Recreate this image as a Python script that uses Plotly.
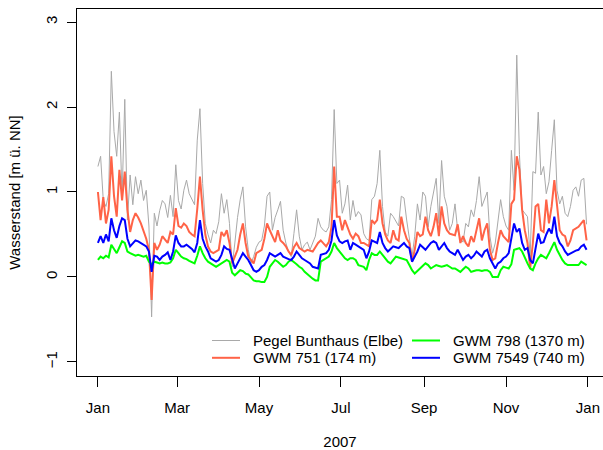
import pandas as pd
import plotly.graph_objects as go

# Daily water levels 2007, sampled every second day (m above NN)
dates = pd.date_range("2007-01-01", periods=183, freq="2D")

pegel_bunthaus = [
    1.30, 1.42, 0.90, 0.83, 0.98, 2.42, 1.71, 1.42, 1.94, 0.95,
    2.09, 0.67, 1.20, 0.85, 1.18, 0.98, 1.14, 0.90, 1.02, 0.60,
    -0.47, 0.75, 0.60, 0.78, 0.90, 0.86, 0.70, 0.96, 0.71, 1.32,
    0.90, 0.80, 1.02, 1.14, 0.98, 0.92, 0.85, 1.61, 1.98, 1.10,
    0.63, 0.50, 0.40, 0.55, 0.51, 0.65, 0.98, 0.75, 0.91, 0.63,
    0.12, 0.40, 0.70, 0.91, 1.06, 0.59, 0.32, 0.16, 0.24, 0.35,
    0.41, 0.43, 0.60, 0.95, 1.00, 0.55, 0.70, 0.79, 0.89, 0.55,
    0.40, 0.30, 0.24, 0.51, 0.79, 0.48, 0.32, 0.38, 0.41, 0.32,
    0.40, 0.48, 0.69, 0.59, 0.55, 0.53, 0.59, 0.91, 1.97, 1.10,
    1.14, 0.75, 0.86, 1.08, 0.67, 0.90, 0.71, 0.77, 0.73, 0.51,
    0.45, 0.43, 0.91, 0.95, 1.10, 1.49, 0.83, 0.53, 0.48, 0.75,
    0.71, 0.65, 0.60, 0.95, 0.93, 0.67, 0.48, 0.24, 0.48, 0.86,
    0.67, 1.00, 0.95, 0.59, 0.83, 1.02, 1.16, 0.63, 1.37, 0.95,
    0.83, 0.55, 0.63, 0.86, 0.55, 0.45, 0.41, 0.63, 0.59, 0.79,
    0.71, 0.90, 1.18, 0.83, 0.91, 1.00, 0.48, 0.28, 0.40, 0.65,
    0.91, 0.71, 0.60, 0.55, 1.49, 1.02, 2.61, 1.44, 0.79, 0.75,
    0.71, 0.24, 1.24, 1.22, 1.94, 1.20, 1.30, 0.98, 1.12, 1.49,
    1.85, 1.02, 0.86, 0.95, 0.75, 0.71, 0.83, 1.02, 1.06, 0.95,
    1.14, 1.16, 0.62,
]

gwm_751 = [
    1.00, 0.67, 0.94, 0.63, 0.79, 1.42, 0.95, 0.71, 1.26, 0.90,
    1.24, 0.79, 0.53, 0.67, 0.75, 0.70, 0.63, 0.53, 0.45, 0.32,
    -0.27, 0.40, 0.32, 0.38, 0.48, 0.44, 0.40, 0.53, 0.50, 0.81,
    0.60, 0.58, 0.63, 0.60, 0.53, 0.50, 0.48, 0.80, 1.18, 0.79,
    0.50, 0.36, 0.30, 0.28, 0.30, 0.32, 0.53, 0.48, 0.55, 0.40,
    0.16, 0.25, 0.32, 0.50, 0.63, 0.40, 0.24, 0.20, 0.16, 0.28,
    0.30, 0.32, 0.45, 0.63, 0.55, 0.48, 0.41, 0.55, 0.43, 0.40,
    0.36, 0.30, 0.26, 0.35, 0.40, 0.34, 0.32, 0.30, 0.32, 0.31,
    0.30, 0.35, 0.40, 0.43, 0.40, 0.36, 0.41, 0.59, 1.30, 0.71,
    0.71, 0.55, 0.67, 0.59, 0.50, 0.45, 0.51, 0.48, 0.40, 0.40,
    0.38, 0.36, 0.67, 0.63, 0.67, 0.91, 0.63, 0.50, 0.43, 0.40,
    0.55, 0.45, 0.43, 0.71, 0.55, 0.45, 0.40, 0.18, 0.32, 0.53,
    0.48, 0.50, 0.71, 0.55, 0.48, 0.59, 0.75, 0.48, 0.83, 0.63,
    0.55, 0.51, 0.50, 0.49, 0.62, 0.40, 0.48, 0.40, 0.36, 0.48,
    0.41, 0.55, 0.69, 0.43, 0.55, 0.63, 0.32, 0.20, 0.22, 0.40,
    0.55, 0.48, 0.45, 0.41, 0.86, 0.91, 1.42, 1.26, 0.79, 0.55,
    0.40, 0.10, 0.40, 0.83, 0.86, 0.55, 0.53, 0.91, 0.63, 0.83,
    1.14, 0.83, 0.55, 0.50, 0.48, 0.36, 0.43, 0.55, 0.57, 0.59,
    0.63, 0.67, 0.43,
]

gwm_798 = [
    0.20, 0.24, 0.22, 0.25, 0.23, 0.38, 0.33, 0.28, 0.35, 0.42,
    0.40, 0.30, 0.28, 0.26, 0.25, 0.26, 0.25, 0.24, 0.25, 0.18,
    0.15, 0.18, 0.17, 0.16, 0.17, 0.16, 0.16, 0.17, 0.22, 0.32,
    0.28, 0.24, 0.22, 0.21, 0.19, 0.17, 0.16, 0.25, 0.36, 0.28,
    0.22, 0.18, 0.16, 0.14, 0.12, 0.14, 0.16, 0.18, 0.20, 0.18,
    0.05, 0.02, 0.05, 0.08, 0.07, 0.04, 0.03, 0.00, -0.04, -0.05,
    -0.05, -0.06, -0.06, 0.00, 0.12, 0.16, 0.20, 0.18, 0.15, 0.12,
    0.14, 0.18, 0.20, 0.18, 0.15, 0.12, 0.10, 0.06, 0.03, 0.00,
    -0.02, -0.04, -0.04, 0.18, 0.20, 0.22, 0.24, 0.30, 0.40, 0.34,
    0.30, 0.26, 0.22, 0.20, 0.22, 0.22, 0.20, 0.14, 0.13, 0.12,
    0.08, 0.20, 0.28, 0.26, 0.26, 0.30, 0.26, 0.22, 0.18, 0.16,
    0.20, 0.24, 0.23, 0.22, 0.21, 0.20, 0.14, 0.08, 0.04, 0.07,
    0.10, 0.12, 0.16, 0.14, 0.10, 0.12, 0.14, 0.13, 0.12, 0.13,
    0.14, 0.12, 0.10, 0.10, 0.08, 0.06, 0.09, 0.12, 0.10, 0.06,
    0.07, 0.08, 0.08, 0.07, 0.08, 0.08, 0.06, 0.00, 0.00, 0.00,
    0.08, 0.12, 0.11, 0.10, 0.15, 0.32, 0.33, 0.34, 0.30, 0.22,
    0.16, 0.10, 0.08, 0.16, 0.22, 0.26, 0.24, 0.22, 0.28, 0.34,
    0.41, 0.32, 0.26, 0.20, 0.16, 0.14, 0.14, 0.14, 0.14, 0.14,
    0.18, 0.16, 0.14,
]

gwm_7549 = [
    0.40, 0.48, 0.40, 0.50, 0.42, 0.69, 0.55, 0.46, 0.60, 0.69,
    0.67, 0.45, 0.36, 0.40, 0.43, 0.42, 0.40, 0.38, 0.36, 0.30,
    0.06, 0.25, 0.24, 0.20, 0.24, 0.26, 0.29, 0.20, 0.30, 0.49,
    0.40, 0.36, 0.36, 0.38, 0.36, 0.33, 0.29, 0.40, 0.67, 0.45,
    0.36, 0.30, 0.22, 0.20, 0.18, 0.20, 0.26, 0.36, 0.33, 0.32,
    0.20, 0.10, 0.16, 0.22, 0.28, 0.24, 0.20, 0.14, 0.08, 0.06,
    0.08, 0.12, 0.14, 0.20, 0.28, 0.26, 0.24, 0.26, 0.28, 0.24,
    0.22, 0.21, 0.20, 0.24, 0.30, 0.26, 0.22, 0.20, 0.18, 0.16,
    0.12, 0.11, 0.10, 0.26, 0.27, 0.28, 0.32, 0.43, 0.67, 0.49,
    0.42, 0.40, 0.42, 0.43, 0.32, 0.40, 0.38, 0.36, 0.34, 0.32,
    0.22, 0.30, 0.43, 0.41, 0.40, 0.53, 0.40, 0.34, 0.30, 0.33,
    0.36, 0.35, 0.34, 0.37, 0.40, 0.36, 0.34, 0.18, 0.24, 0.30,
    0.38, 0.35, 0.32, 0.36, 0.40, 0.42, 0.40, 0.32, 0.36, 0.40,
    0.34, 0.30, 0.28, 0.26, 0.32, 0.26, 0.20, 0.24, 0.26, 0.22,
    0.25, 0.30, 0.27, 0.24, 0.30, 0.32, 0.22, 0.16, 0.10, 0.16,
    0.18, 0.22, 0.24, 0.28, 0.48, 0.63, 0.53, 0.57, 0.40, 0.32,
    0.34, 0.20, 0.16, 0.36, 0.51, 0.40, 0.41, 0.50, 0.57, 0.51,
    0.71, 0.48, 0.40, 0.36, 0.30, 0.26, 0.28, 0.30, 0.31, 0.32,
    0.36, 0.38, 0.32,
]

series_names = ["Pegel Bunthaus (Elbe)", "GWM 751 (174 m)", "GWM 798 (1370 m)", "GWM 7549 (740 m)"]
series_values = [pegel_bunthaus, gwm_751, gwm_798, gwm_7549]
series_colors = ["#A9A9A9", "#FF6347", "#00FF00", "#0000FF"]
series_widths = [1.0, 2.0, 2.0, 2.0]

month_ticks = ["2007-01-01", "2007-03-01", "2007-05-01", "2007-07-01",
               "2007-09-01", "2007-11-01", "2008-01-01"]
month_labels = ["Jan", "Mar", "May", "Jul", "Sep", "Nov", "Jan"]
y_ticks = [-1, 0, 1, 2, 3]

FONT = "Liberation Sans, Arial, Helvetica, sans-serif"

fig = go.Figure()
for name, vals, col, w in zip(series_names, series_values, series_colors, series_widths):
    fig.add_trace(go.Scatter(x=dates, y=vals, mode="lines", name=name,
                             line=dict(color=col, width=w), showlegend=False))

# Two-column legend in the lower part of the plotting region
W, H = 603, 450
L, R, T, B = 77, 0, 9, 74
pw, ph = W - L - R, H - T - B
def px_x(p):
    return (p - L) / pw
def px_y(p):
    return (H - B - p) / ph

legend_cols = [212, 412]
legend_rows = [340.5, 357.8]
for k, name in enumerate(series_names):
    cx = legend_cols[k // 2]
    cy = legend_rows[k % 2]
    fig.add_shape(type="line", xref="paper", yref="paper",
                  x0=px_x(cx), x1=px_x(cx + 28), y0=px_y(cy), y1=px_y(cy),
                  line=dict(color=series_colors[k], width=series_widths[k]))
    fig.add_annotation(xref="paper", yref="paper", x=px_x(cx + 39), y=px_y(cy),
                       text=name, showarrow=False, xanchor="left",
                       yanchor="middle", font=dict(family=FONT, size=15, color="black"))

fig.update_layout(
    width=W, height=H,
    margin=dict(l=L, r=R, t=T, b=B),
    paper_bgcolor="white", plot_bgcolor="white",
    font=dict(family=FONT, size=15, color="black"),
    xaxis=dict(
        range=["2006-12-16 10:00", "2008-01-12 06:00"],
        tickvals=month_ticks, ticktext=month_labels,
        ticks="outside", ticklen=10, tickwidth=1, tickcolor="black",
        showline=True, linecolor="black", linewidth=1, mirror=True,
        showgrid=False, zeroline=False,
        tickfont=dict(size=15), ticklabelstandoff=8,
        title=dict(text="2007", standoff=22, font=dict(size=15)),
    ),
    yaxis=dict(
        range=[-1.165, 3.153],
        tickvals=y_ticks,
        ticks="outside", ticklen=9, tickwidth=1, tickcolor="black",
        showline=True, linecolor="black", linewidth=1,
        showgrid=False, zeroline=False, tickangle=-90,
        tickfont=dict(size=15), ticklabelstandoff=4,
        title=dict(text="Wasserstand [m ü. NN]", standoff=18, font=dict(size=15)),
    ),
)

fig.write_html("out.html")
